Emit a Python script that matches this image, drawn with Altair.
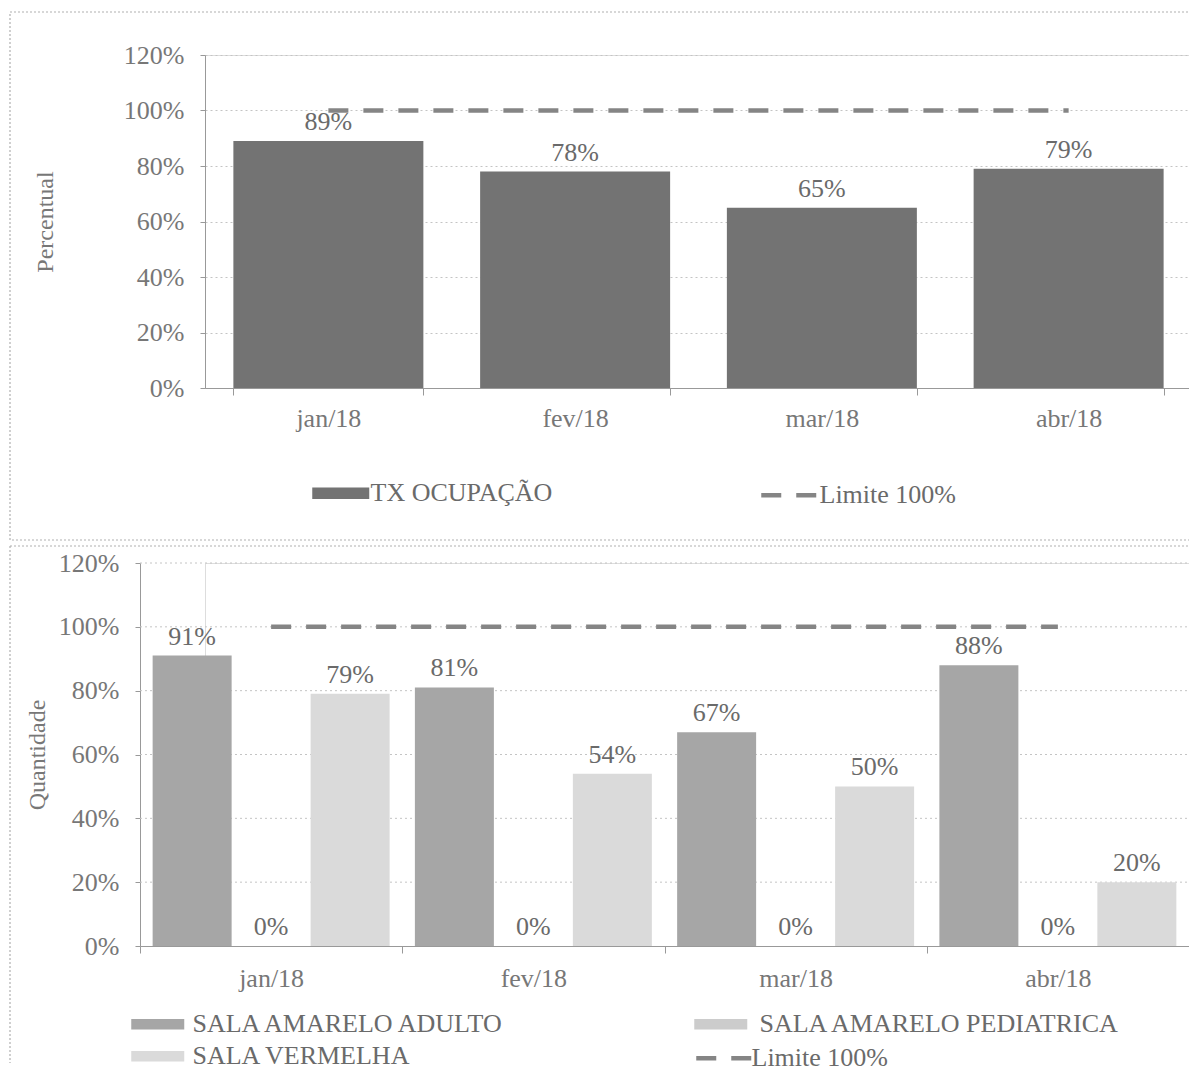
import altair as alt
import pandas as pd

FONT = "Liberation Serif"

meses = ["jan/18", "fev/18", "mar/18", "abr/18"]
tx_ocupacao = [0.89, 0.78, 0.65, 0.79]
limite = [1.0, 1.0, 1.0, 1.0]
series_baixo = ["SALA AMARELO ADULTO", "SALA AMARELO PEDIATRICA", "SALA VERMELHA"]
sala_adulto = [0.91, 0.81, 0.67, 0.88]
sala_pediatrica = [0.0, 0.0, 0.0, 0.0]
sala_vermelha = [0.79, 0.54, 0.50, 0.20]
y_ticks = [0, 0.2, 0.4, 0.6, 0.8, 1.0, 1.2]

cores_baixo = ["#a6a6a6", "#cccccc", "#dadada"]
cor_linha = "#858585"
cor_texto = "#6a6a6a"
cor_eixo = "#777777"
cor_grade = "#c4c4c4"

df_top = pd.DataFrame({"mes": meses, "valor": tx_ocupacao, "serie": "TX OCUPAÇÃO",
                       "lim": limite, "lim_serie": "Limite 100%"})
series_frames = []
for s, vals in zip(series_baixo, [sala_adulto, sala_pediatrica, sala_vermelha]):
    series_frames.append(pd.DataFrame({"mes": meses, "serie": s, "valor": vals}))
df_bot = pd.concat(series_frames, ignore_index=True)
df_lim = pd.DataFrame({"mes": meses, "lim": limite, "lim_serie": "Limite 100%"})
df_grid = pd.DataFrame({"g": y_ticks[1:]})
df_one = pd.DataFrame({"k": [0]})

BAR_PATH = "M-2,-0.4H2V0.4H-2Z"
DASH_PATH = "M-2,0H2"


def y_axis(title, title_pad, grid=True, offset=0):
    return alt.Axis(title=title, values=y_ticks, format=".0%", labelFontSize=26,
                    labelColor=cor_eixo, labelPadding=16, tickSize=5, tickColor="#999999",
                    domainColor="#999999", grid=grid, gridColor=cor_grade, gridDash=[2, 3],
                    titleFontSize=24, titleColor=cor_eixo, titleFontWeight="normal",
                    titlePadding=title_pad, labelFont=FONT, titleFont=FONT, offset=offset)


def x_axis(pad):
    return alt.Axis(title=None, labelAngle=0, tickBand="extent", grid=False, tickSize=7,
                    tickColor="#999999", domainColor="#999999", labelFontSize=26,
                    labelColor=cor_eixo, labelPadding=pad, labelFont=FONT)


def bar_legend(x, y, size, offset):
    return alt.Legend(title=None, orient="none", legendX=x, legendY=y,
                      symbolType=BAR_PATH, symbolSize=size, symbolStrokeWidth=0,
                      labelFontSize=26, labelFont=FONT, labelColor=cor_texto, labelOffset=offset,
                      labelLimit=1000, padding=0)


def line_legend(x, y, offset):
    return alt.Legend(title=None, orient="none", legendX=x, legendY=y, symbolType=DASH_PATH,
                      symbolSize=756, symbolStrokeColor=cor_linha, symbolStrokeWidth=4.5,
                      labelFontSize=26, labelFont=FONT, labelColor=cor_texto, labelOffset=offset,
                      labelLimit=1000, padding=0)


# ---------- top chart (plot origin = page x 203, y 55) ----------
W1, H1 = 987, 333
xs1 = alt.X("mes:N", sort=meses, scale=alt.Scale(paddingInner=0.23, paddingOuter=0.115),
            axis=x_axis(10))
border1 = alt.Chart(df_one).mark_rect(fillOpacity=0, stroke="#b0b0b0", strokeDash=[2, 2],
                                      strokeWidth=1.2).encode(
    x=alt.value(-195), x2=alt.value(985), y=alt.value(-43), y2=alt.value(485))
bars1 = alt.Chart(df_top).mark_bar().encode(
    x=xs1,
    y=alt.Y("valor:Q", scale=alt.Scale(domain=[0, 1.2]), axis=y_axis("Percentual", 66)),
    color=alt.Color("serie:N", scale=alt.Scale(domain=["TX OCUPAÇÃO"], range=["#737373"]),
                    legend=bar_legend(121.25, 423.75, 812.25, 15.25)))
line1 = alt.Chart(df_top).mark_line(color=cor_linha, strokeWidth=4.5).encode(
    x=xs1, y=alt.Y("lim:Q", title="Percentual"),
    strokeDash=alt.StrokeDash("lim_serie:N", scale=alt.Scale(domain=["Limite 100%"], range=[[20, 15]]),
                              legend=line_legend(567.75, 424.25, 14.75)))
text1 = alt.Chart(df_top).mark_text(baseline="bottom", dy=-6, fontSize=26, color=cor_texto,
                                    font=FONT).encode(
    x=xs1, y=alt.Y("valor:Q", title="Percentual"), text=alt.Text("valor:Q", format=".0%"))
top = alt.layer(border1, bars1, line1, text1).properties(width=W1, height=H1)

# ---------- bottom chart (same origin x; visible plot starts 65px left of it) ----------
SH = 65
W2, H2 = 1049, 383
xs2 = alt.X("mes:N", sort=meses,
            scale=alt.Scale(range=[-SH, W2 - SH], paddingInner=0, paddingOuter=0), axis=x_axis(12))
xo2 = alt.XOffset("serie:N", scale=alt.Scale(domain=series_baixo, paddingOuter=0.16, paddingInner=0))
edge_style = dict(color="#b0b0b0", strokeDash=[2, 2], strokeWidth=1.2)
b_top = alt.Chart(df_one).mark_rule(**edge_style).encode(
    x=alt.value(-195), x2=alt.value(985), y=alt.value(-17))
b_left = alt.Chart(df_one).mark_rule(**edge_style).encode(
    x=alt.value(-195), y=alt.value(-17), y2=alt.value(500))
b_right = alt.Chart(df_one).mark_rule(**edge_style).encode(
    x=alt.value(985), y=alt.value(-17), y2=alt.value(500))
grid2 = alt.Chart(df_grid).mark_rule(color=cor_grade, strokeDash=[2, 3], strokeWidth=1).encode(
    x=alt.value(-SH), x2=alt.value(W2 - SH), y=alt.Y("g:Q", title="Quantidade"))

leg_pos = {
    "SALA AMARELO ADULTO": (-60.75, 447.75, 21.25),
    "SALA AMARELO PEDIATRICA": (502.25, 447.75, 25.25),
    "SALA VERMELHA": (-60.75, 479.75, 21.25),
}
bar_layers = []
for i, (s, frame) in enumerate(zip(series_baixo, series_frames)):
    lx, ly, lo = leg_pos[s]
    y_enc = alt.Y("valor:Q", scale=alt.Scale(domain=[0, 1.2]),
                  axis=y_axis("Quantidade", 9, grid=False, offset=SH)) if i == 0 else \
        alt.Y("valor:Q", title="Quantidade")
    bar_layers.append(alt.Chart(frame).mark_bar().encode(
        x=xs2, xOffset=xo2, y=y_enc,
        color=alt.Color("serie:N", scale=alt.Scale(domain=[s], range=[cores_baixo[i]]),
                        legend=bar_legend(lx, ly, 702.25, lo))))

line2 = alt.Chart(df_lim).mark_line(color=cor_linha, strokeWidth=4.5).encode(
    x=xs2, y=alt.Y("lim:Q", title="Quantidade"),
    strokeDash=alt.StrokeDash("lim_serie:N", scale=alt.Scale(domain=["Limite 100%"], range=[[20, 15]]),
                              legend=line_legend(502.75, 479.25, 11.75)))
text2 = alt.Chart(df_bot).mark_text(baseline="bottom", dy=-6, fontSize=26, color=cor_texto,
                                    font=FONT).encode(
    x=xs2, xOffset=xo2, y=alt.Y("valor:Q", title="Quantidade"),
    text=alt.Text("valor:Q", format=".0%"))
bottom = alt.layer(b_top, b_left, b_right, grid2, *bar_layers, line2, text2).resolve_scale(
    color="independent").properties(width=W2 - SH, height=H2)

chart = alt.vconcat(top, bottom, spacing=175, bounds="flush").resolve_scale(
    color="independent", strokeDash="independent", x="independent", y="independent",
    xOffset="independent").resolve_legend(color="independent", strokeDash="independent").properties(
    padding={"left": 0, "top": 2, "right": -66, "bottom": 0}).configure_view(strokeWidth=0).configure(
    font=FONT)

chart.save("out.html", embed_options={"renderer": "svg", "actions": False})
